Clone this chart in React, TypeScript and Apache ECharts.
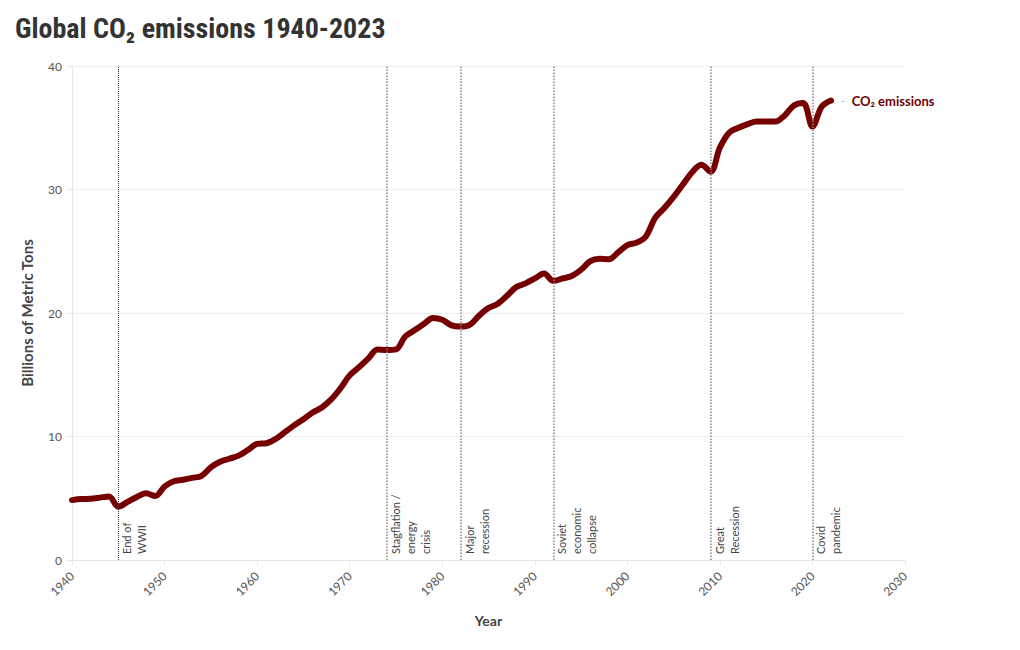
import React, { useEffect, useRef } from "react";
import * as echarts from "echarts";

const firstYear = 1940;
// Global CO2 emissions, billions of metric tons, 1940..2022
const emissions = [
  4.85, 4.93, 4.96, 5.05, 5.15, 4.32, 4.7, 5.1, 5.4, 5.18,
  5.95, 6.38, 6.5, 6.65, 6.82, 7.5, 7.95, 8.2, 8.45, 8.9,
  9.4, 9.45, 9.8, 10.35, 10.9, 11.4, 11.95, 12.35, 13.0, 13.9,
  14.95, 15.6, 16.3, 17.05, 17.0, 17.05, 18.1, 18.6, 19.1, 19.6,
  19.45, 19.0, 18.9, 19.05, 19.8, 20.4, 20.75, 21.4, 22.1, 22.4,
  22.8, 23.2, 22.6, 22.8, 23.0, 23.5, 24.2, 24.4, 24.35, 24.9,
  25.5, 25.7, 26.2, 27.7, 28.5, 29.4, 30.4, 31.4, 32.0, 31.45,
  33.4, 34.6, 35.0, 35.3, 35.5, 35.5, 35.5, 36.0, 36.8, 37.0,
  35.1, 36.7, 37.2,
];

const eventYears = [1945, 1974, 1982, 1992, 2009, 2020];
const eventLabels = [
  "End of\nWWII",
  "Stagflation /\nenergy\ncrisis",
  "Major\nrecession",
  "Soviet\neconomic\ncollapse",
  "Great\nRecession",
  "Covid\npandemic",
];

const xMin = 1940;
const xMax = 2030;
const xInterval = 10;
const yMin = 0;
const yMax = 40;
const yInterval = 10;

const seriesName = "CO₂ emissions";
const titleText = "Global CO₂ emissions 1940-2023";
const xName = "Year";
const yName = "Billions of Metric Tons";

const bodyFont = 'Lato, "Open Sans", "Noto Sans", sans-serif';

export default function App() {
  const ref = useRef<HTMLDivElement>(null);

  useEffect(() => {
    document.body.style.margin = "0";
    if (!ref.current) return;
    const chart = echarts.init(ref.current, undefined, { renderer: "svg" });

    const data = emissions.map((v, i) => [firstYear + i, v]);

    chart.setOption({
      animation: false,
      backgroundColor: "#ffffff",
      title: {
        text: titleText,
        left: 10,
        top: 9,
        textStyle: {
          fontFamily: '"Roboto Condensed", "Liberation Sans Narrow", "DejaVu Sans Condensed", Roboto, sans-serif',
          fontWeight: "bold",
          fontSize: 28,
          color: "#333333",
        },
      },
      grid: {
        left: 72,
        right: 115,
        top: 66,
        bottom: 90,
        containLabel: false,
      },
      xAxis: {
        type: "value",
        min: xMin,
        max: xMax,
        interval: xInterval,
        name: xName,
        nameLocation: "middle",
        nameGap: 53,
        nameTextStyle: {
          fontFamily: bodyFont,
          fontWeight: "bold",
          fontSize: 14,
          color: "#444444",
        },
        axisLine: { show: true, lineStyle: { color: "#e6e6e6", width: 1 } },
        axisTick: { show: true, length: 5, lineStyle: { color: "#e6e6e6" } },
        axisLabel: {
          rotate: 45,
          margin: 14,
          fontFamily: bodyFont,
          fontSize: 12,
          color: "#555555",
          formatter: (v: number) => String(v),
        },
        splitLine: { show: false },
      },
      yAxis: {
        type: "value",
        min: yMin,
        max: yMax,
        interval: yInterval,
        name: yName,
        nameLocation: "middle",
        nameGap: 38,
        nameTextStyle: {
          fontFamily: bodyFont,
          fontWeight: "bold",
          fontSize: 15,
          color: "#444444",
        },
        axisLine: { show: true, lineStyle: { color: "#e6e6e6", width: 1 } },
        axisTick: { show: true, length: 5, lineStyle: { color: "#e6e6e6" } },
        axisLabel: {
          margin: 10,
          fontFamily: bodyFont,
          fontSize: 12,
          color: "#555555",
        },
        splitLine: { show: true, lineStyle: { color: "#eeeeee", width: 1 } },
      },
      series: [
        {
          name: seriesName,
          type: "line",
          data,
          smooth: 0.35,
          showSymbol: false,
          symbol: "none",
          lineStyle: { color: "#760000", width: 6, cap: "round", join: "round" },
          itemStyle: { color: "#760000" },
          emphasis: { disabled: true },
          endLabel: {
            show: true,
            distance: 10,
            formatter: () => "{d|-}  {t|" + seriesName + "}",
            rich: {
              d: { color: "#bbbbbb", fontSize: 11, fontFamily: bodyFont },
              t: {
                color: "#6e0000",
                fontSize: 13,
                fontWeight: "bold",
                fontFamily: bodyFont,
              },
            },
          },
          markLine: {
            silent: true,
            symbol: "none",
            animation: false,
            lineStyle: { color: "#888888", type: "dotted", width: 1.5 },
            label: {
              show: true,
              position: "insideStartBottom",
              distance: [6, 1],
              fontFamily: bodyFont,
              fontSize: 11,
              lineHeight: 15,
              color: "#444444",
              align: "left",
            },
            emphasis: { disabled: true },
            data: eventYears.map((yr, i) => ({
              xAxis: yr,
              label: { formatter: eventLabels[i] },
              lineStyle:
                i === 0
                  ? { color: "#333333", type: "dotted", width: 1 }
                  : { color: "#888888", type: "dotted", width: 1.5 },
            })),
          },
        },
      ],
    });

    return () => chart.dispose();
  }, []);

  return <div ref={ref} style={{ width: 1020, height: 650 }} />;
}
